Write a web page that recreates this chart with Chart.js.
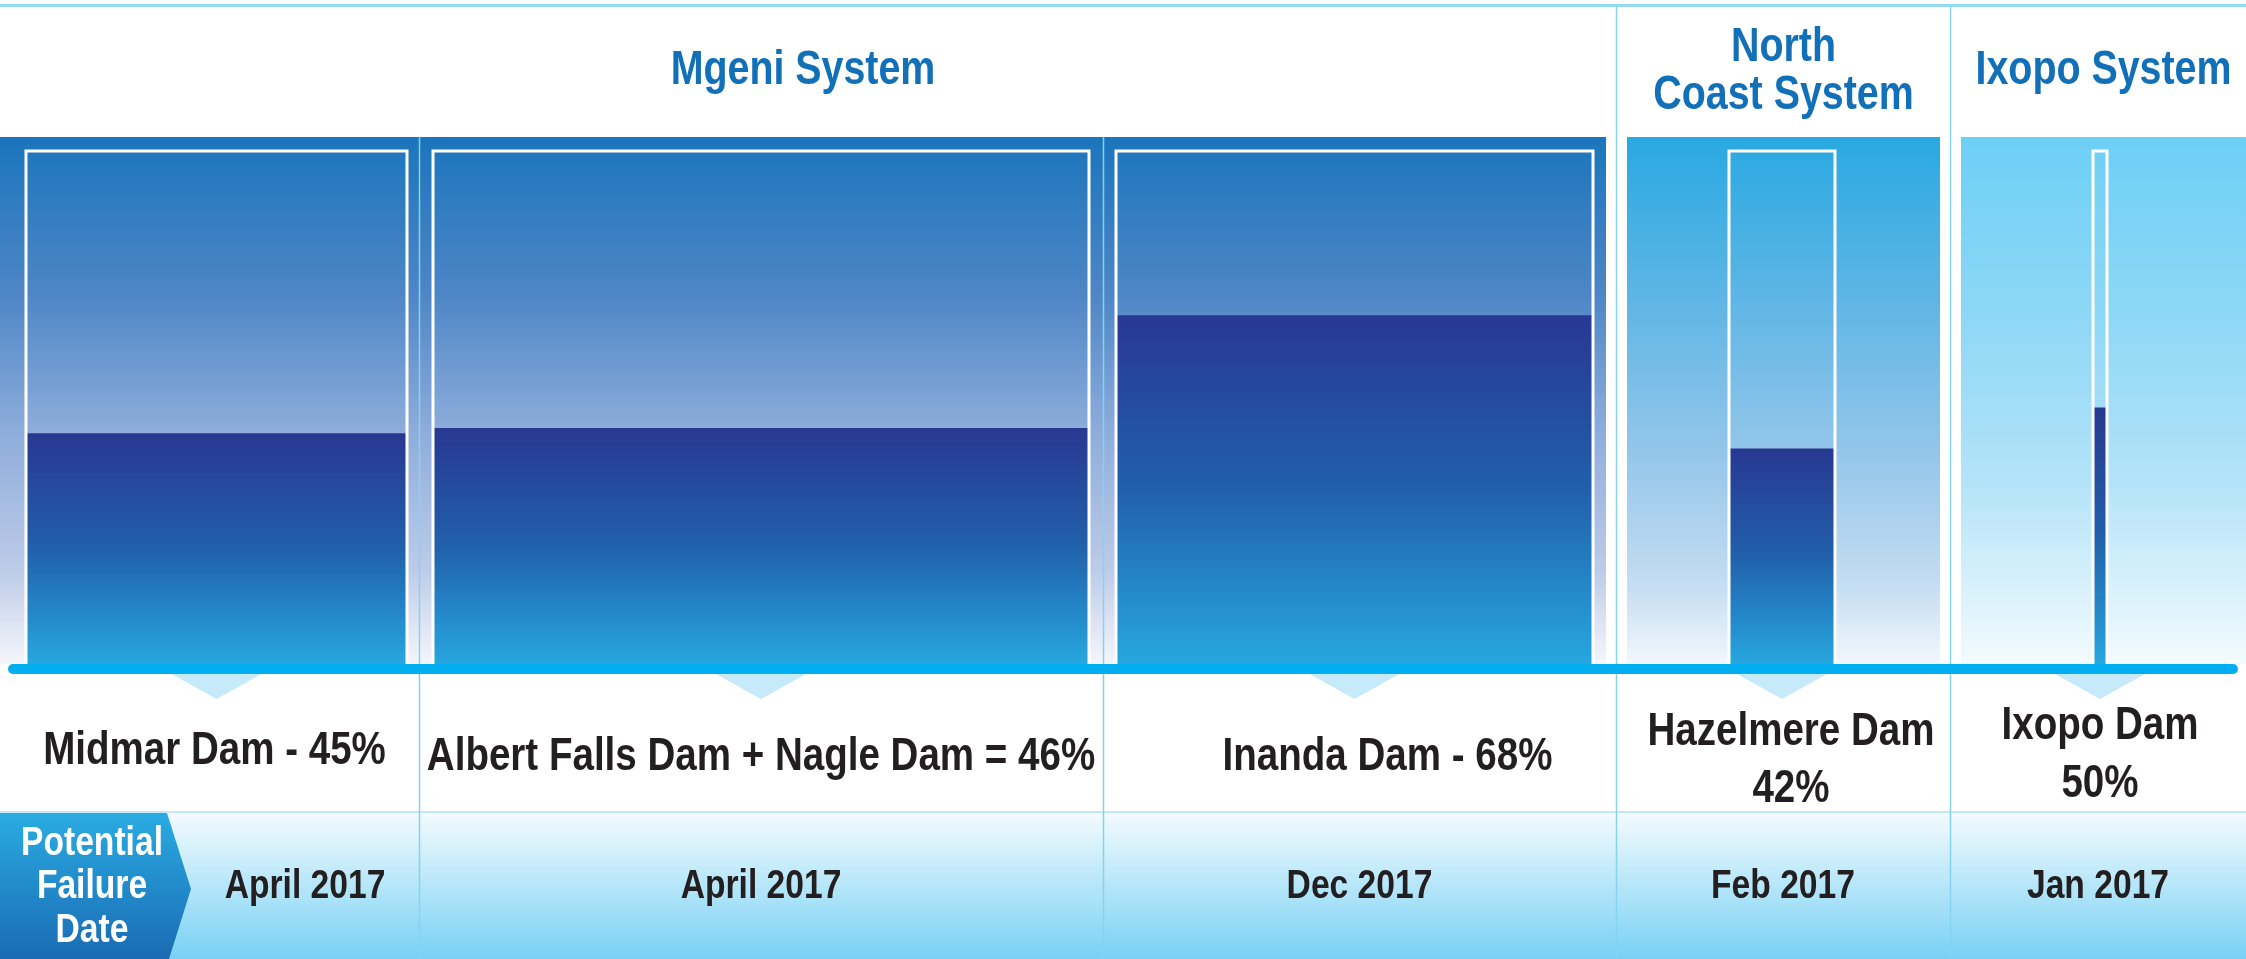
<!DOCTYPE html>
<html>
<head>
<meta charset="utf-8">
<script src="https://cdn.jsdelivr.net/npm/chart.js@4.4.1/dist/chart.umd.min.js"></script>
<style>
  html, body { margin: 0; padding: 0; background: #fff; overflow: hidden; }
  #chartContainer { display: block; }
</style>
</head>
<body>
<canvas id="chartContainer" width="2246" height="959"></canvas>
<script>
"use strict";

// 1: data
let systems = ['Mgeni System', 'North Coast System', 'Ixopo System'];
let systemLines = [['Mgeni System'], ['North', 'Coast System'], ['Ixopo System']];
let damNames = ['Midmar Dam', 'Albert Falls Dam + Nagle Dam', 'Inanda Dam', 'Hazelmere Dam', 'Ixopo Dam'];
let damSystem = [0, 0, 0, 1, 2];
let levels = [45, 46, 68, 42, 50];            // % full
let failureDates = ['April 2017', 'April 2017', 'Dec 2017', 'Feb 2017', 'Jan 2017'];
let failureTitle = ['Potential', 'Failure', 'Date'];

// layout (x units across the picture, not data)
let layout = {
  columnWidths: [419, 684, 513, 334, 296],
  boxWidths: [381, 656, 477, 106, 14],
  boxShift: [7, 0, -5, -1, 2],
  labelJoin: [' - ', ' = ', ' - ', null, null],
  labelShift: [-2, 0, 33, 9, 0],
  panelGap: 10,
  panelTop: 102.73,   // y units (box top = 100)
  barY: -0.98,
  barInset: 13
};

// 2: prepare data for chart
function prepareData() {
  let starts = [];
  let acc = 0;
  layout.columnWidths.forEach(w => { starts.push(acc); acc += w; });
  let total = acc;
  let centers = starts.map((s, i) => s + layout.columnWidths[i] / 2 + layout.boxShift[i]);
  let boxes = centers.map((c, i) => [c - layout.boxWidths[i] / 2, c + layout.boxWidths[i] / 2]);

  let panels = systems.map((s, k) => {
    let cols = damSystem.map((d, i) => d === k ? i : -1).filter(i => i >= 0);
    let first = cols[0], last = cols[cols.length - 1];
    let x0 = starts[first] + (k > 0 ? layout.panelGap + 1 : 0);
    let x1 = starts[last] + layout.columnWidths[last] - (k < systems.length - 1 ? layout.panelGap : 0);
    return [x0, x1];
  });
  return { starts, centers, boxes, panels, total };
}

let data = prepareData();

function rect(x0, x1, top) {
  return [{ x: x0, y: 0 }, { x: x0, y: top }, { x: x1, y: top }, { x: x1, y: 0 }];
}

let panelStops = [
  [[0, '#1b75bc'], [0.3, '#4e86c6'], [0.56, '#8eaddb'], [0.82, '#bccbe8'], [1, '#f5f6fb']],
  [[0, '#29a9e1'], [0.3, '#5db5e5'], [0.6, '#94c6ea'], [0.85, '#c4ddf2'], [1, '#f2f7fd']],
  [[0, '#6dcff5'], [0.35, '#8fd8f6'], [0.65, '#b3e3f8'], [1, '#f3fbfe']]
];

function panelFill(stops) {
  return function (ctx) {
    let chart = ctx.chart;
    if (!chart.chartArea) return stops[0][1];
    let y = chart.scales.y;
    let g = chart.ctx.createLinearGradient(0, y.getPixelForValue(layout.panelTop), 0, y.getPixelForValue(0));
    stops.forEach(s => g.addColorStop(s[0], s[1]));
    return g;
  };
}

function waterFill(level) {
  return function (ctx) {
    let chart = ctx.chart;
    if (!chart.chartArea) return '#2a4f9e';
    let y = chart.scales.y;
    let g = chart.ctx.createLinearGradient(0, y.getPixelForValue(level), 0, y.getPixelForValue(0));
    g.addColorStop(0, '#283891');
    g.addColorStop(0.5, '#2160ab');
    g.addColorStop(1, '#27a7df');
    return g;
  };
}

// datasets listed bottom layer first
let layers = [];
data.panels.forEach((p, k) => {
  layers.push({ data: rect(p[0], p[1], layout.panelTop), fill: 'origin', borderWidth: 0, backgroundColor: panelFill(panelStops[k]) });
});
levels.forEach((v, i) => {
  let b = data.boxes[i];
  layers.push({ data: rect(b[0], b[1], v), fill: 'origin', borderWidth: 0, backgroundColor: waterFill(v) });
});
levels.forEach((v, i) => {
  let b = data.boxes[i];
  layers.push({ data: rect(b[0], b[1], 100), fill: false, borderWidth: 3, borderColor: '#ffffff', borderJoinStyle: 'miter' });
});
let barIndex = layers.length;
layers.push({
  data: [{ x: layout.barInset, y: layout.barY }, { x: data.total - layout.barInset, y: layout.barY }],
  fill: false, borderWidth: 10, borderColor: '#00aeef', borderCapStyle: 'round', clip: false
});
layers.forEach((d, i) => { d.order = layers.length - i; d.pointRadius = 0; d.tension = 0; });

// Liberation Sans squeezed horizontally to look like a narrow bold face
const FONT = '"Liberation Sans", Arial, sans-serif';
const SQUEEZE = 0.82;

function narrowText(c, text, x, y) {
  c.save();
  c.translate(x, y);
  c.scale(SQUEEZE, 1);
  c.fillText(text, 0, 0);
  c.restore();
}

let decorations = {
  id: 'decorations',
  beforeDraw(chart) {
    let c = chart.ctx;
    let W = chart.width, H = chart.height;
    c.save();
    c.fillStyle = '#ffffff';
    c.fillRect(0, 0, W, H);
    // date row
    let g = c.createLinearGradient(0, 812, 0, H);
    g.addColorStop(0, '#f4fbfe');
    g.addColorStop(1, '#78d1f4');
    c.fillStyle = g;
    c.fillRect(0, 812, W, H - 812);
    c.fillStyle = '#c3e8f8';
    c.fillRect(0, 811, W, 2);
    // top rule
    c.fillStyle = '#95d9f3';
    c.fillRect(0, 4, W, 3);
    c.restore();
  },
  beforeDatasetDraw(chart, args) {
    if (args.index !== barIndex) return;
    let c = chart.ctx;
    let x = chart.scales.x, y = chart.scales.y;
    c.save();
    c.strokeStyle = '#84d3f2';
    c.lineWidth = 1.5;
    for (let i = 1; i < data.starts.length; i++) {
      let px = Math.round(x.getPixelForValue(data.starts[i])) + 0.5;
      let newSystem = damSystem[i] !== damSystem[i - 1];
      let top = newSystem ? 6 : y.getPixelForValue(layout.panelTop);
      c.beginPath();
      c.moveTo(px, top);
      c.lineTo(px, chart.height);
      c.stroke();
    }
    c.restore();
  },
  afterDraw(chart) {
    let c = chart.ctx;
    let x = chart.scales.x, y = chart.scales.y;
    let barBottom = y.getPixelForValue(layout.barY) + 5;
    c.save();
    // pointers under the bar
    c.fillStyle = '#c6eaf9';
    data.boxes.forEach(b => {
      let cx = x.getPixelForValue((b[0] + b[1]) / 2);
      c.beginPath();
      c.moveTo(cx - 45, barBottom);
      c.lineTo(cx + 45, barBottom);
      c.lineTo(cx, barBottom + 25);
      c.closePath();
      c.fill();
    });

    c.textAlign = 'center';
    c.textBaseline = 'alphabetic';

    // system headers
    c.fillStyle = '#1170b8';
    c.font = 'bold 48px ' + FONT;
    systemLines.forEach((lines, k) => {
      let p = data.panels[k];
      let cx = x.getPixelForValue((p[0] + p[1]) / 2);
      let base = lines.length > 1 ? [61, 109] : [84];
      lines.forEach((t, j) => narrowText(c, t, cx, base[j]));
    });

    // dam labels
    c.fillStyle = '#231f20';
    c.font = 'bold 47px ' + FONT;
    damNames.forEach((n, i) => {
      let b = data.boxes[i];
      let cx = x.getPixelForValue((b[0] + b[1]) / 2 + layout.labelShift[i]);
      let j = layout.labelJoin[i];
      if (j) {
        narrowText(c, n + j + levels[i] + '%', cx, i === 0 ? 764 : 770);
      } else {
        narrowText(c, n, cx, i === 3 ? 745 : 739);
        narrowText(c, levels[i] + '%', cx, i === 3 ? 802 : 797);
      }
    });

    // potential failure tag
    let tg = c.createLinearGradient(0, 813, 0, chart.height);
    tg.addColorStop(0, '#2aabe2');
    tg.addColorStop(1, '#1a6bb3');
    c.fillStyle = tg;
    c.beginPath();
    c.moveTo(0, 813);
    c.lineTo(167, 813);
    c.lineTo(191, 889);
    c.lineTo(169, chart.height);
    c.lineTo(0, chart.height);
    c.closePath();
    c.fill();
    c.fillStyle = '#ffffff';
    c.font = 'bold 41px ' + FONT;
    [855, 898, 942].forEach((yy, j) => narrowText(c, failureTitle[j], 92, yy));

    // dates
    c.fillStyle = '#231f20';
    c.font = 'bold 41px ' + FONT;
    failureDates.forEach((d, i) => {
      let left = i === 0 ? 191 : x.getPixelForValue(data.starts[i]);
      let right = x.getPixelForValue(data.starts[i] + layout.columnWidths[i]);
      narrowText(c, d, (left + right) / 2, 898);
    });
    c.restore();
  }
};

// 3: create and append the chart
function appendChart() {
  let chartContainer = document.getElementById('chartContainer');
  let chart = new Chart(chartContainer, {
    type: 'line',
    data: { datasets: layers },
    options: {
      responsive: false,
      animation: false,
      devicePixelRatio: 1,
      layout: { padding: { top: 137, bottom: 295, left: 0, right: 0 } },
      scales: {
        x: { type: 'linear', min: 0, max: data.total, display: false },
        y: { type: 'linear', min: 0, max: layout.panelTop, display: false }
      },
      plugins: {
        legend: { display: false },
        tooltip: { enabled: false }
      }
    },
    plugins: [decorations]
  });
}

appendChart();
</script>
</body>
</html>
